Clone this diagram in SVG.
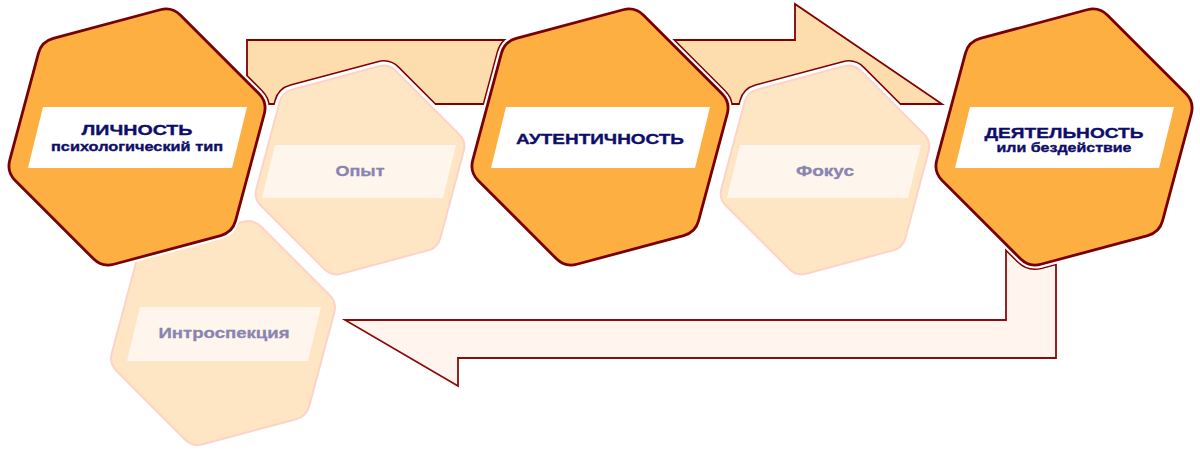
<svg xmlns="http://www.w3.org/2000/svg" xmlns:xlink="http://www.w3.org/1999/xlink" width="1200" height="453" viewBox="0 0 1200 453">
<style>
.arrow{fill:#FDDDAE;stroke:#800000;stroke-width:1.8}
.ret{fill:#FFF4EE;stroke:#8B0A0A;stroke-width:1.8}
.ring-main{fill:none;stroke:#800000;stroke-width:10}
.halo-main{fill:none;stroke:#fff;stroke-width:7}
.hex-main{fill:#FDAF42;stroke:#7A0000;stroke-width:2.8}
.ring-light{fill:none;stroke:#800000;stroke-width:11}
.halo-light{fill:none;stroke:#fff;stroke-width:8}
.hex-light{fill:#FEE5C3;stroke:#FDD3C8;stroke-width:2}
.band-main{fill:#fff}
.band-light{fill:#FEF6EC}
.t-main{font-family:"Liberation Sans",Arial,sans-serif;font-weight:bold;fill:#0E0E6A;stroke:#0E0E6A;stroke-width:0.35;text-anchor:middle}
.t-light{font-family:"Liberation Sans",Arial,sans-serif;font-weight:bold;fill:#8A84B0;stroke:#8A84B0;stroke-width:0.3;text-anchor:middle}
</style>
<defs>
<path id="hex" vector-effect="non-scaling-stroke" d="M62.02,73.04 L-17.19,94.26 Q-25.88,96.59 -32.24,90.23 L-90.23,32.24 Q-96.59,25.88 -94.26,17.19 L-73.04,-62.02 Q-70.71,-70.71 -62.02,-73.04 L17.19,-94.26 Q25.88,-96.59 32.24,-90.23 L90.23,-32.24 Q96.59,-25.88 94.26,-17.19 L73.04,62.02 Q70.71,70.71 62.02,73.04 Z"/>
<clipPath id="arrowClip">
<polygon points="247,40 530,40 530,104 247,104"/>
<polygon points="660,40 795,40 795,4 942,104 660,104"/>
<polygon points="345,320 1006,320 1006,240 1056,240 1056,358 458,358 458,386"/>
</clipPath>
</defs>
<rect width="1200" height="453" fill="#fff"/>
<g id="connectors">
<polygon class="arrow" points="247,40 530,40 530,104 247,104"/>
<polygon class="arrow" points="660,40 795,40 795,4 942,104 660,104"/>
<polygon class="ret" points="345,320 1006,320 1006,240 1056,240 1056,358 458,358 458,386"/>
</g>
<g id="node-introspection">
<g clip-path="url(#arrowClip)"><use xlink:href="#hex" href="#hex" class="ring-light" transform="translate(223 333) scale(1.18)"/></g>
<use xlink:href="#hex" href="#hex" class="halo-light" transform="translate(223 333) scale(1.18)"/>
<use xlink:href="#hex" href="#hex" class="hex-light" transform="translate(223 333) scale(1.18)"/>
<polygon class="band-light" points="140,307 321,307 308,361 127,361"/>
<text class="t-light" x="224" y="338" font-size="15" textLength="131" lengthAdjust="spacingAndGlyphs">Интроспекция</text>
</g>
<g id="node-opyt">
<g clip-path="url(#arrowClip)"><use xlink:href="#hex" href="#hex" class="ring-light" transform="translate(360 170) scale(1.10)"/></g>
<use xlink:href="#hex" href="#hex" class="halo-light" transform="translate(360 170) scale(1.10)"/>
<use xlink:href="#hex" href="#hex" class="hex-light" transform="translate(360 170) scale(1.10)"/>
<polygon class="band-light" points="275,145 456,145 443,198 262,198"/>
<text class="t-light" x="360" y="176" font-size="15" textLength="49" lengthAdjust="spacingAndGlyphs">Опыт</text>
</g>
<g id="node-fokus">
<g clip-path="url(#arrowClip)"><use xlink:href="#hex" href="#hex" class="ring-light" transform="translate(825 170) scale(1.10)"/></g>
<use xlink:href="#hex" href="#hex" class="halo-light" transform="translate(825 170) scale(1.10)"/>
<use xlink:href="#hex" href="#hex" class="hex-light" transform="translate(825 170) scale(1.10)"/>
<polygon class="band-light" points="740,145 921,145 908,198 727,198"/>
<text class="t-light" x="825" y="176" font-size="15" textLength="58" lengthAdjust="spacingAndGlyphs">Фокус</text>
</g>
<g id="node-lichnost">
<g clip-path="url(#arrowClip)"><use xlink:href="#hex" href="#hex" class="ring-main" transform="translate(137 137) scale(1.35)"/></g>
<use xlink:href="#hex" href="#hex" class="halo-main" transform="translate(137 137) scale(1.35)"/>
<use xlink:href="#hex" href="#hex" class="hex-main" transform="translate(137 137) scale(1.35)"/>
<polygon class="band-main" points="43,107 247,107 232,168 28,168"/>
<text class="t-main" x="137" y="135" font-size="14.5" textLength="111" lengthAdjust="spacingAndGlyphs">ЛИЧНОСТЬ</text>
<text class="t-main" x="137" y="151" font-size="12.5" textLength="172" lengthAdjust="spacingAndGlyphs">психологический тип</text>
</g>
<g id="node-autentichnost">
<g clip-path="url(#arrowClip)"><use xlink:href="#hex" href="#hex" class="ring-main" transform="translate(600 137) scale(1.35)"/></g>
<use xlink:href="#hex" href="#hex" class="halo-main" transform="translate(600 137) scale(1.35)"/>
<use xlink:href="#hex" href="#hex" class="hex-main" transform="translate(600 137) scale(1.35)"/>
<polygon class="band-main" points="506,107 710,107 695,168 491,168"/>
<text class="t-main" x="600" y="144" font-size="15" textLength="168" lengthAdjust="spacingAndGlyphs">АУТЕНТИЧНОСТЬ</text>
</g>
<g id="node-deyatelnost">
<g clip-path="url(#arrowClip)"><use xlink:href="#hex" href="#hex" class="ring-main" transform="translate(1064 137) scale(1.35)"/></g>
<use xlink:href="#hex" href="#hex" class="halo-main" transform="translate(1064 137) scale(1.35)"/>
<use xlink:href="#hex" href="#hex" class="hex-main" transform="translate(1064 137) scale(1.35)"/>
<polygon class="band-main" points="970,107 1174,107 1159,168 955,168"/>
<text class="t-main" x="1064" y="138" font-size="15" textLength="159" lengthAdjust="spacingAndGlyphs">ДЕЯТЕЛЬНОСТЬ</text>
<text class="t-main" x="1064" y="152" font-size="12.5" textLength="135" lengthAdjust="spacingAndGlyphs">или бездействие</text>
</g>
</svg>
